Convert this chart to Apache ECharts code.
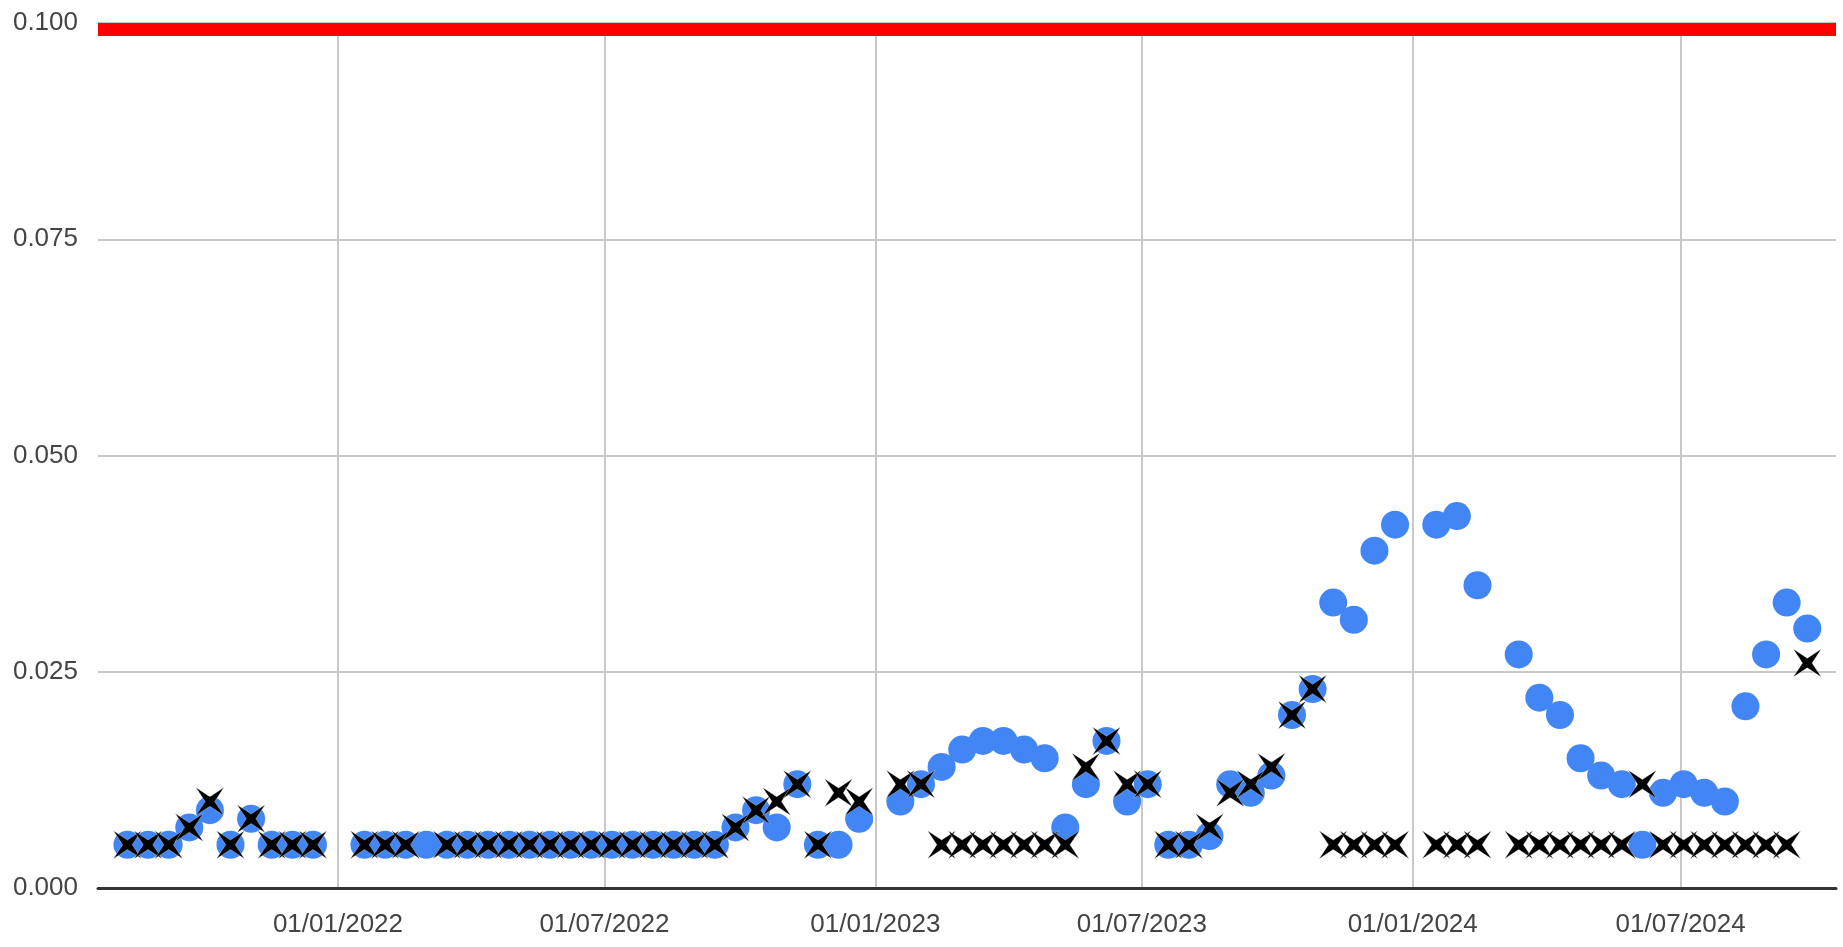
<!DOCTYPE html>
<html>
<head>
<meta charset="utf-8">
<script src="https://cdn.jsdelivr.net/npm/echarts@6/dist/echarts.min.js"></script>
<style>
  html, body { margin: 0; padding: 0; background: #ffffff; }
  #chart { width: 1843px; height: 947px; }
</style>
</head>
<body>
<div id="chart"></div>
<script>
// ---- data ----
const dates = [
  '2021-08-11','2021-08-25','2021-09-08','2021-09-22','2021-10-06','2021-10-20','2021-11-03','2021-11-17','2021-12-01','2021-12-15',
  '2022-01-19','2022-02-02','2022-02-16','2022-03-02','2022-03-16','2022-03-30','2022-04-13','2022-04-27','2022-05-11','2022-05-25',
  '2022-06-08','2022-06-22','2022-07-06','2022-07-20','2022-08-03','2022-08-17','2022-08-31','2022-09-14','2022-09-28','2022-10-12',
  '2022-10-26','2022-11-09','2022-11-23','2022-12-07','2022-12-21',
  '2023-01-18','2023-02-01','2023-02-15','2023-03-01','2023-03-15','2023-03-29','2023-04-12','2023-04-26','2023-05-10','2023-05-24',
  '2023-06-07','2023-06-21','2023-07-05','2023-07-19','2023-08-02','2023-08-16','2023-08-30','2023-09-13','2023-09-27','2023-10-11',
  '2023-10-25','2023-11-08','2023-11-22','2023-12-06','2023-12-20',
  '2024-01-17','2024-01-31','2024-02-14','2024-03-13','2024-03-27','2024-04-10','2024-04-24','2024-05-08','2024-05-22','2024-06-05',
  '2024-06-19','2024-07-03','2024-07-17','2024-07-31','2024-08-14','2024-08-28','2024-09-11','2024-09-25'
];

const circleValues = [
  0.005,0.005,0.005,0.007,0.009,0.005,0.008,0.005,0.005,0.005,
  0.005,0.005,0.005,0.005,0.005,0.005,0.005,0.005,0.005,0.005,
  0.005,0.005,0.005,0.005,0.005,0.005,0.005,0.005,0.007,0.009,
  0.007,0.012,0.005,0.005,0.008,
  0.010,0.012,0.014,0.016,0.017,0.017,0.016,0.015,0.007,0.012,
  0.017,0.010,0.012,0.005,0.005,0.006,0.012,0.011,0.013,0.020,
  0.023,0.033,0.031,0.039,0.042,
  0.042,0.043,0.035,0.027,0.022,0.020,0.015,0.013,0.012,0.005,
  0.011,0.012,0.011,0.010,0.021,0.027,0.033,0.030
];

const crossValues = [
  0.005,0.005,0.005,0.007,0.010,0.005,0.008,0.005,0.005,0.005,
  0.005,0.005,0.005,null,0.005,0.005,0.005,0.005,0.005,0.005,
  0.005,0.005,0.005,0.005,0.005,0.005,0.005,0.005,0.007,0.009,
  0.010,0.012,0.005,0.011,0.010,
  0.012,0.012,0.005,0.005,0.005,0.005,0.005,0.005,0.005,0.014,
  0.017,0.012,0.012,0.005,0.005,0.007,0.011,0.012,0.014,0.020,
  0.023,0.005,0.005,0.005,0.005,
  0.005,0.005,0.005,0.005,0.005,0.005,0.005,0.005,0.005,0.012,
  0.005,0.005,0.005,0.005,0.005,0.005,0.005,0.026
];

const thresholdValue = 0.1;

const xTickLabels = ['01/01/2022','01/07/2022','01/01/2023','01/07/2023','01/01/2024','01/07/2024'];
const xRange = ['2021-07-22', '2024-10-14T12:00:00'];
const yTicks = { min: 0, max: 0.1, interval: 0.025 };

// ---- build ----
function parseDMY(s) {
  const p = s.split('/').map(Number);
  return Date.UTC(p[2], p[1] - 1, p[0]);
}
function parseISO(s) {
  const [d, t] = s.split('T');
  const p = d.split('-').map(Number);
  let h = 0, m = 0;
  if (t) { const q = t.split(':').map(Number); h = q[0]; m = q[1]; }
  return Date.UTC(p[0], p[1] - 1, p[2], h, m);
}
const tickTimes = xTickLabels.map(parseDMY);
function labelFor(v) {
  let best = 0, bd = Infinity;
  tickTimes.forEach((t, i) => { const dd = Math.abs(t - v); if (dd < bd) { bd = dd; best = i; } });
  return xTickLabels[best];
}
const xMin = parseISO(xRange[0]);
const xMax = parseISO(xRange[1]);

const circleData = dates.map((d, i) => [parseISO(d), circleValues[i]]).filter(p => p[1] != null);
const crossData = dates.map((d, i) => [parseISO(d), crossValues[i]]).filter(p => p[1] != null);

const crossPath = 'path://M0,0 L50,33 L100,0 L67,50 L100,100 L50,67 L0,100 L33,50 Z';
const fontFamily = '"Liberation Sans", Arial, sans-serif';
const thresholdThickness = 13; // px, drawn down from the threshold value (clipped thick line)

const chart = echarts.init(document.getElementById('chart'), null, { renderer: 'canvas' });
chart.setOption({
  animation: false,
  backgroundColor: '#ffffff',
  grid: { left: 98, right: 7, top: 23, bottom: 59, containLabel: false },
  xAxis: {
    type: 'value',
    min: xMin,
    max: xMax,
    axisLine: { show: true, onZero: false, lineStyle: { color: '#333333', width: 3 } },
    axisTick: { show: false, customValues: tickTimes },
    axisLabel: {
      customValues: tickTimes,
      formatter: v => labelFor(v),
      color: '#444444',
      fontSize: 26,
      fontFamily: fontFamily,
      margin: 24
    },
    splitLine: { show: true, lineStyle: { color: '#c8c8c8', width: 2 } }
  },
  yAxis: {
    type: 'value',
    min: yTicks.min,
    max: yTicks.max,
    interval: yTicks.interval,
    axisLine: { show: false },
    axisTick: { show: false },
    axisLabel: {
      formatter: v => v.toFixed(3),
      color: '#444444',
      fontSize: 26,
      fontFamily: fontFamily,
      margin: 20
    },
    splitLine: { show: true, lineStyle: { color: '#c8c8c8', width: 2 } }
  },
  series: [
    {
      name: 'Threshold',
      type: 'custom',
      silent: true,
      z: 5,
      data: [[thresholdValue]],
      renderItem: function (params, api) {
        const v = api.value(0);
        const p1 = api.coord([xMin, v]);
        const p2 = api.coord([xMax, v]);
        return {
          type: 'rect',
          shape: { x: p1[0], y: p1[1], width: p2[0] - p1[0], height: thresholdThickness },
          style: { fill: '#ff0000' }
        };
      }
    },
    {
      name: 'Circle',
      type: 'scatter',
      symbol: 'circle',
      symbolSize: 28,
      itemStyle: { color: '#4285F4', opacity: 1 },
      data: circleData,
      z: 3
    },
    {
      name: 'Cross',
      type: 'scatter',
      symbol: crossPath,
      symbolSize: 28,
      itemStyle: { color: '#000000', borderColor: 'rgba(255,255,255,0.6)', borderWidth: 0.5, opacity: 1 },
      data: crossData,
      z: 4
    }
  ]
});
</script>
</body>
</html>
